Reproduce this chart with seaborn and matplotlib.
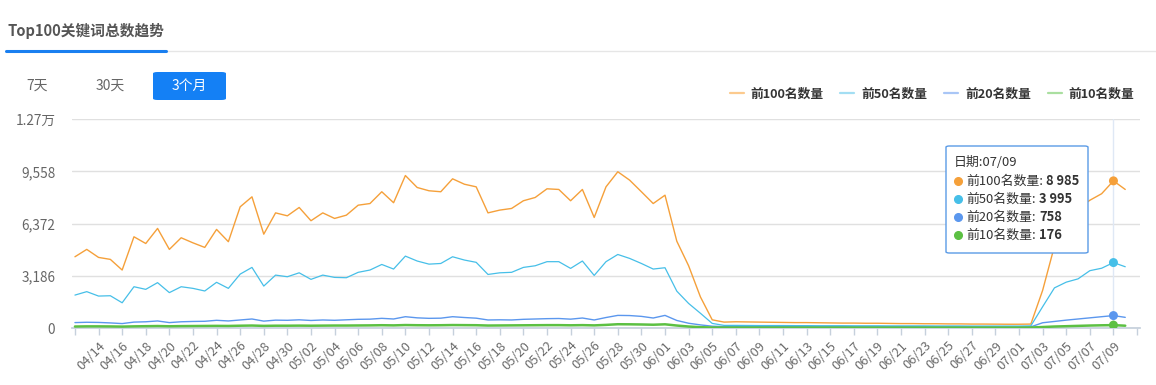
import matplotlib
matplotlib.use("Agg")
import matplotlib.pyplot as plt
import pandas as pd
import seaborn as sns
from matplotlib.lines import Line2D
from matplotlib.patches import FancyBboxPatch

W, H = 1156, 385

# x categories: 04/12 .. 07/11 (last day has no data yet)
DATES = pd.date_range("2024-04-12", "2024-07-11").strftime("%m/%d").tolist()

SERIES = ["前100名数量", "前50名数量", "前20名数量", "前10名数量"]

TOP100 = [
    4350, 4800, 4310, 4190, 3540, 5570, 5160, 6080, 4800, 5510,
    5200, 4920, 6020, 5270, 7400, 8010, 5730, 7030, 6850, 7360,
    6550, 7030, 6690, 6890, 7500, 7600, 8320, 7650, 9310, 8580,
    8380, 8320, 9110, 8780, 8620, 7030, 7200, 7300, 7770, 7970,
    8500, 8460, 7770, 8460, 6750, 8620, 9540, 9030, 8320, 7600,
    8110, 5300, 3800, 1900, 500, 360, 380, 370, 360, 350,
    340, 330, 330, 320, 310, 300, 300, 290, 290, 280,
    270, 270, 260, 260, 250, 250, 240, 240, 235, 230,
    230, 240, 2300, 5000, 6500, 7300, 7800, 8200, 8985, 8460,
]
TOP50 = [
    2010, 2220, 1950, 1970, 1540, 2520, 2360, 2770, 2160, 2520,
    2420, 2260, 2790, 2420, 3290, 3700, 2560, 3230, 3130, 3370,
    2970, 3230, 3090, 3070, 3400, 3540, 3880, 3600, 4390, 4090,
    3900, 3940, 4350, 4150, 4010, 3270, 3370, 3400, 3700, 3800,
    4050, 4050, 3640, 4090, 3210, 4050, 4490, 4250, 3940, 3600,
    3680, 2250, 1500, 900, 280, 160, 160, 155, 150, 150,
    150, 145, 145, 140, 140, 140, 135, 135, 135, 130,
    130, 130, 130, 125, 125, 125, 120, 120, 120, 120,
    120, 130, 1300, 2450, 2800, 3000, 3500, 3650, 3995, 3740,
]
TOP20 = [
    330, 350, 340, 310, 270, 360, 380, 430, 330, 380,
    400, 410, 470, 430, 490, 550, 420, 480, 470, 500,
    460, 490, 470, 500, 530, 540, 590, 550, 690, 620,
    590, 600, 690, 640, 600, 490, 500, 490, 530, 550,
    570, 580, 540, 610, 490, 640, 770, 760, 710, 610,
    770, 460, 290, 190, 110, 85, 85, 80, 80, 80,
    80, 80, 75, 75, 75, 75, 70, 70, 70, 70,
    70, 70, 65, 65, 65, 65, 65, 60, 60, 60,
    60, 70, 320, 400, 480, 550, 620, 690, 758, 650,
]
TOP10 = [
    90, 100, 100, 95, 85, 100, 110, 120, 105, 115,
    120, 125, 130, 125, 140, 150, 130, 140, 140, 145,
    140, 145, 150, 150, 155, 160, 170, 160, 180, 170,
    165, 170, 180, 175, 170, 150, 155, 160, 165, 170,
    175, 175, 165, 175, 160, 190, 230, 225, 215, 200,
    225, 150, 90, 50, 30, 25, 25, 25, 25, 25,
    25, 25, 25, 25, 25, 25, 25, 25, 25, 25,
    25, 25, 25, 25, 25, 25, 25, 25, 25, 25,
    25, 30, 60, 90, 110, 130, 150, 165, 176, 140,
]

Y_TICKS = [0, 3186, 6372, 9558, 12744]
Y_LABELS = ["0", "3,186", "6,372", "9,558", "1.27万"]

HOVER_DAY = 88  # 07/09

COLORS = {"前100名数量": "#f5a03a", "前50名数量": "#46bfe8",
          "前20名数量": "#5b97ee", "前10名数量": "#5cc043"}
LEGEND_COLORS = ["#fcca8e", "#a3def3", "#a9c6f6", "#aadfa0"]
WIDTHS = {"前100名数量": 1.0, "前50名数量": 0.9, "前20名数量": 1.0, "前10名数量": 1.8}


def px(x, y):
    """Pixel position (from top-left) to figure fraction."""
    return x / W, 1 - y / H


def build_frame():
    frames = []
    for name, vals in zip(SERIES, [TOP100, TOP50, TOP20, TOP10]):
        frames.append(pd.DataFrame({"day": range(len(vals)), "count": vals, "series": name}))
    return pd.concat(frames, ignore_index=True)


def main():
    sns.set_theme(style="white")
    plt.rcParams["font.family"] = ["Noto Sans CJK SC", "DejaVu Sans"]

    df = build_frame()

    fig = plt.figure(figsize=(W / 100, H / 100), dpi=100)
    x0, y0 = px(72, 328)
    x1, y1 = px(1140, 119.3)
    ax = fig.add_axes([x0, y0, x1 - x0, y1 - y0])

    # hover pointer line
    ax.axvline(HOVER_DAY, color="#dfe8f5", lw=1, zorder=1)

    sns.lineplot(data=df, x="day", y="count", hue="series", hue_order=SERIES,
                 palette=COLORS, size="series", sizes=WIDTHS, legend=False,
                 ax=ax, zorder=3)
    hover = df[df["day"] == HOVER_DAY]
    sns.scatterplot(data=hover, x="day", y="count", hue="series", hue_order=SERIES,
                    palette=COLORS, s=42, edgecolor="none", legend=False, ax=ax, zorder=5)

    ax.set_xlim(-0.25, 90.25)
    ax.set_ylim(0, 12744)
    ax.set_yticks(Y_TICKS)
    ax.set_yticklabels(Y_LABELS)
    ax.yaxis.grid(True, color="#e0e0e0", lw=1)
    ax.set_axisbelow(True)

    ticks = list(range(0, len(DATES), 2))
    labels = [DATES[i] if 0 < i < len(DATES) - 1 else "" for i in ticks]
    ax.set_xticks(ticks)
    ax.set_xticklabels(labels, rotation=45, ha="right", rotation_mode="anchor")
    ax.tick_params(axis="x", length=5, width=1, color="#c6d0dc", colors="#6a6a6a",
                   labelsize=9.3, pad=3, bottom=True)
    ax.tick_params(axis="y", length=0, colors="#666666", labelsize=9.8, pad=12)
    ax.set_xlabel("")
    ax.set_ylabel("")
    for side in ["top", "right", "left"]:
        ax.spines[side].set_visible(False)
    ax.spines["bottom"].set_color("#c6d0dc")

    # header
    fig.text(*px(8, 31), "Top100关键词总数趋势", fontsize=10.6, fontweight="bold",
             color="#555555", va="center", ha="left")
    fig.add_artist(Line2D([166 / W, 1], [1 - 51 / H] * 2, color="#e6e6e6", lw=1))
    fig.add_artist(Line2D([6 / W, 166 / W], [1 - 51 / H] * 2, color="#1a7ff0", lw=2.2))

    # period buttons
    fig.text(*px(37, 86), "7天", fontsize=10, color="#666666", ha="center", va="center")
    fig.text(*px(110, 86), "30天", fontsize=10, color="#666666", ha="center", va="center")
    bx, by = px(153, 100)
    fig.add_artist(FancyBboxPatch((bx, by), 73 / W, 28 / H,
                                  boxstyle="round,pad=0,rounding_size=0.004",
                                  transform=fig.transFigure, fc="#1480f5", ec="none"))
    fig.text(*px(189.5, 86), "3个月", fontsize=10, color="white", ha="center", va="center")

    # legend
    handles = [Line2D([], [], color=c, lw=1.6) for c in LEGEND_COLORS]
    fig.legend(handles, SERIES, loc="center right", bbox_to_anchor=px(1146, 94),
               ncol=4, frameon=False, handlelength=1.1, handletextpad=0.55,
               columnspacing=1.3, prop={"size": 9.2, "weight": "bold"},
               labelcolor="#333333")

    # tooltip
    tx, ty = px(946, 253)
    fig.add_artist(FancyBboxPatch((tx, ty), 142 / W, 107 / H,
                                  boxstyle="round,pad=0,rounding_size=0.003",
                                  transform=fig.transFigure, fc="white",
                                  ec="#5b9be6", lw=1, zorder=10))
    fig.text(*px(954, 162.5), "日期:07/09", fontsize=9.3, color="#333333",
             va="center", ha="left", zorder=11)
    rows = [(181, 1046), (199, 1039), (217, 1039), (235, 1039)]
    vals = [TOP100[HOVER_DAY], TOP50[HOVER_DAY], TOP20[HOVER_DAY], TOP10[HOVER_DAY]]
    for name, (ry, vx), v in zip(SERIES, rows, vals):
        fig.add_artist(Line2D([958 / W], [1 - ry / H], marker="o", markersize=5.5,
                              color=COLORS[name], lw=0, zorder=11))
        fig.text(*px(966, ry), name + ":", fontsize=9.3, color="#333333",
                 va="center", ha="left", zorder=11)
        fig.text(*px(vx, ry), f"{v:,}".replace(",", " "), fontsize=9.3,
                 fontweight="bold", color="#333333", va="center", ha="left", zorder=11)

    fig.savefig("out.png", dpi=100)


if __name__ == "__main__":
    main()
